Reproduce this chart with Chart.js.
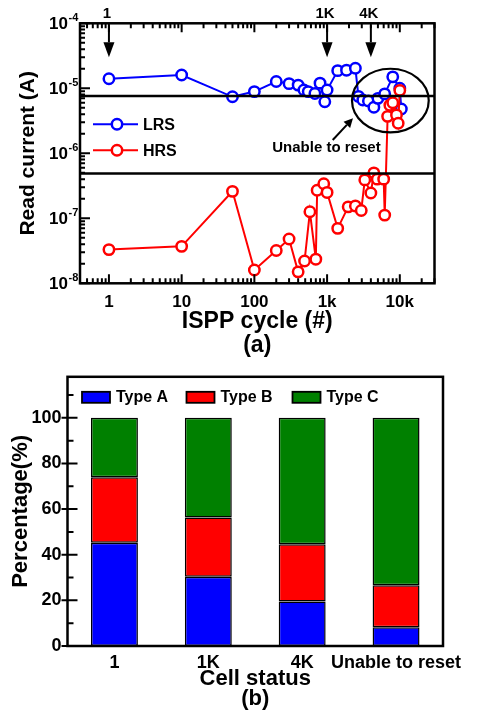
<!DOCTYPE html>
<html><head><meta charset="utf-8">
<script src="https://cdn.jsdelivr.net/npm/chart.js@4/dist/chart.umd.min.js"></script>
<style>
html,body{margin:0;padding:0;background:#fff;width:495px;height:718px;overflow:hidden;}
#wa{position:absolute;left:0;top:0;width:495px;height:360px;}
#wb{position:absolute;left:0;top:360px;width:495px;height:358px;}
</style></head><body>
<div id="wa"><canvas id="ca"></canvas></div>
<div id="wb"><canvas id="cb"></canvas></div>
<script>
// ---------- Panel (a) data ----------
const lrsCycles  = [1, 10, 50, 100, 200, 300, 400, 480, 550, 680, 800, 930, 1000, 1400, 1850, 2450, 2700, 3100, 3700, 4400, 5000, 6200, 8000, 10000, 10500];
const lrsCurrent = [1.4e-5, 1.6e-5, 7.4e-6, 8.9e-6, 1.27e-5, 1.18e-5, 1.12e-5, 9.4e-6, 8.9e-6, 8.3e-6, 1.2e-5, 6.2e-6, 9.4e-6, 1.87e-5, 1.9e-5, 2.03e-5, 7.5e-6, 6.6e-6, 6.4e-6, 5.1e-6, 7.0e-6, 8.2e-6, 1.5e-5, 1.0e-5, 4.8e-6];
const hrsCycles  = [1, 10, 50, 100, 200, 300, 400, 490, 580, 700, 730, 900, 1000, 1400, 1950, 2450, 2950, 3300, 4000, 4400, 4900, 6000, 6200, 6800, 7300, 8000, 9000, 9500, 10000];
const hrsCurrent = [3.3e-8, 3.7e-8, 2.6e-7, 1.6e-8, 3.2e-8, 4.8e-8, 1.5e-8, 2.2e-8, 1.26e-7, 2.35e-8, 2.7e-7, 3.4e-7, 2.5e-7, 7.0e-8, 1.5e-7, 1.55e-7, 1.32e-7, 3.9e-7, 2.45e-7, 5.0e-7, 4.0e-7, 4.0e-7, 1.12e-7, 3.7e-6, 5.5e-6, 6.0e-6, 3.9e-6, 2.9e-6, 9.3e-6];
const thresholdLevels = [7.6e-6, 4.9e-7];
const markerCycles = [1, 1000, 4000];
const markerLabels = ['1', '1K', '4K'];
const xTickValues = [1, 10, 100, 1000, 10000];
const xTickLabels = ['1', '10', '100', '1k', '10k'];
const yTickExponents = [-8, -7, -6, -5, -4];
const seriesNamesA = ['LRS', 'HRS'];

// ---------- Panel (b) data ----------
const cellStatus = ['1', '1K', '4K', 'Unable to reset'];
const typeA = [45.3, 30.4, 19.5, 8.2];
const typeB = [28.7, 25.9, 25.1, 18.4];
const typeC = [26.0, 43.7, 55.4, 73.4];
const typeNames = ['Type A', 'Type B', 'Type C'];
const pctTicks = [0, 20, 40, 60, 80, 100];

const FONT = "'Liberation Sans', Arial, sans-serif";
Chart.defaults.font.family = FONT;
Chart.defaults.color = '#000';
Chart.defaults.animation = false;

const BLUE = '#0000ff', RED = '#ff0000', GREEN = '#008000';
const X_MIN = 0.4, X_MAX = 3e4;

function arrow(ctx, x1, y1, x2, y2, hl, hw) {
  const a = Math.atan2(y2 - y1, x2 - x1);
  const bx = x2 - hl * Math.cos(a), by = y2 - hl * Math.sin(a);
  ctx.beginPath(); ctx.moveTo(x1, y1); ctx.lineTo(bx, by); ctx.stroke();
  ctx.beginPath();
  ctx.moveTo(x2, y2);
  ctx.lineTo(bx + hw * Math.sin(a), by - hw * Math.cos(a));
  ctx.lineTo(bx - hw * Math.sin(a), by + hw * Math.cos(a));
  ctx.closePath(); ctx.fill();
}

function logTicks(min, max) {
  const out = [];
  for (let e = Math.floor(Math.log10(min)); e <= Math.ceil(Math.log10(max)); e++) {
    for (let m = 1; m < 10; m++) {
      const v = m * Math.pow(10, e);
      if (v >= min * 0.999 && v <= max * 1.001) out.push({v, major: m === 1});
    }
  }
  return out;
}

const decorA = {
  id: 'decorA',
  afterDraw(chart) {
    const {ctx, chartArea: ca, scales: {x, y}} = chart;
    ctx.save();
    ctx.strokeStyle = '#000'; ctx.fillStyle = '#000';
    // ticks
    ctx.lineWidth = 2;
    ctx.beginPath();
    logTicks(X_MIN, X_MAX).forEach(t => {
      const px = x.getPixelForValue(t.v);
      const L = t.major ? 9 : 5;
      ctx.moveTo(px, ca.bottom); ctx.lineTo(px, ca.bottom - L);
      ctx.moveTo(px, ca.top); ctx.lineTo(px, ca.top + L);
    });
    logTicks(1e-8, 1e-4).forEach(t => {
      const py = y.getPixelForValue(t.v);
      const L = t.major ? 10 : 5;
      ctx.moveTo(ca.left, py); ctx.lineTo(ca.left + L, py);
    });
    ctx.stroke();
    // frame
    ctx.lineWidth = 2.5;
    ctx.strokeRect(ca.left, ca.top, ca.right - ca.left, ca.bottom - ca.top);
    // y tick labels 10^n
    yTickExponents.forEach(e => {
      const py = y.getPixelForValue(Math.pow(10, e));
      ctx.font = 'bold 17px ' + FONT;
      ctx.textAlign = 'right'; ctx.textBaseline = 'middle';
      ctx.fillText('10', ca.left - 12, py + 1);
      ctx.font = 'bold 11px ' + FONT;
      ctx.textAlign = 'left';
      ctx.fillText(String(e), ca.left - 11.5, py - 5);
    });
    // marker arrows
    ctx.lineWidth = 2;
    markerCycles.forEach((c, i) => {
      const px = x.getPixelForValue(c);
      arrow(ctx, px, ca.top + 2, px, y.getPixelForValue(3e-5), 15, 5.5);
      ctx.font = 'bold 15px ' + FONT;
      ctx.textAlign = 'center'; ctx.textBaseline = 'middle';
      ctx.fillText(markerLabels[i], px - 2, ca.top - 9);
    });
    // ellipse
    const ex1 = x.getPixelForValue(2200), ex2 = x.getPixelForValue(25000);
    const ey1 = y.getPixelForValue(2.0e-5), ey2 = y.getPixelForValue(2.1e-6);
    ctx.lineWidth = 2.2;
    ctx.beginPath();
    ctx.ellipse((ex1 + ex2) / 2, (ey1 + ey2) / 2, (ex2 - ex1) / 2, (ey2 - ey1) / 2, 0, 0, Math.PI * 2);
    ctx.stroke();
    // Unable to reset annotation
    ctx.lineWidth = 2;
    arrow(ctx, x.getPixelForValue(1195), y.getPixelForValue(1.6e-6), x.getPixelForValue(2270), y.getPixelForValue(3.45e-6), 9, 4.5);
    ctx.font = 'bold 15px ' + FONT;
    ctx.textAlign = 'center'; ctx.textBaseline = 'middle';
    ctx.fillText('Unable to reset', x.getPixelForValue(980), y.getPixelForValue(1.21e-6));
    // legend
    const cols = [BLUE, RED];
    seriesNamesA.forEach((n, i) => {
      const ly = ca.top + 101 + i * 26;
      const lx = ca.left + 13;
      ctx.strokeStyle = cols[i]; ctx.lineWidth = 2;
      ctx.beginPath(); ctx.moveTo(lx, ly); ctx.lineTo(lx + 45, ly); ctx.stroke();
      ctx.fillStyle = '#fff'; ctx.lineWidth = 2.5;
      ctx.beginPath(); ctx.arc(lx + 24, ly, 5.2, 0, Math.PI * 2); ctx.fill(); ctx.stroke();
      ctx.fillStyle = '#000';
      ctx.font = 'bold 16px ' + FONT; ctx.textAlign = 'left'; ctx.textBaseline = 'middle';
      ctx.fillText(n, lx + 50, ly + 1);
    });
    ctx.restore();
  }
};

const toXY = (xs, ys) => xs.map((v, i) => ({x: v, y: ys[i]}));
const seriesStyle = c => ({borderColor: c, backgroundColor: '#fff', pointBackgroundColor: '#fff', pointBorderColor: c,
  pointRadius: 5.2, pointBorderWidth: 2.5, borderWidth: 2, tension: 0});

new Chart(document.getElementById('ca'), {
  type: 'line',
  data: {datasets: [
    Object.assign({label: seriesNamesA[0], data: toXY(lrsCycles, lrsCurrent), order: 2}, seriesStyle(BLUE)),
    Object.assign({label: seriesNamesA[1], data: toXY(hrsCycles, hrsCurrent), order: 1}, seriesStyle(RED)),
    {label: 'LRS limit', data: [{x: X_MIN, y: thresholdLevels[0]}, {x: X_MAX, y: thresholdLevels[0]}], borderColor: '#000', borderWidth: 2.5, pointRadius: 0, order: 0},
    {label: 'HRS limit', data: [{x: X_MIN, y: thresholdLevels[1]}, {x: X_MAX, y: thresholdLevels[1]}], borderColor: '#000', borderWidth: 2.5, pointRadius: 0, order: 0}
  ]},
  options: {
    responsive: true, maintainAspectRatio: false, animation: false,
    layout: {padding: {left: 0, right: 60.5, top: 23.3, bottom: 0}},
    plugins: {legend: {display: false}, tooltip: {enabled: false}},
    scales: {
      x: {
        type: 'logarithmic', min: X_MIN, max: X_MAX, bounds: 'data',
        afterFit(s) { s.height = 76.7; },
        afterBuildTicks(s) { s.ticks = xTickValues.map(v => ({value: v})); },
        ticks: {callback: (v, i) => xTickLabels[i], font: {size: 17, weight: 'bold'}, padding: 9, maxRotation: 0, autoSkip: false},
        grid: {display: false, drawTicks: false}, border: {display: false},
        title: {display: true, text: ['ISPP cycle (#)', '(a)'], font: {size: 23, weight: 'bold', lineHeight: 1.05}, padding: {top: 0, bottom: 2}}
      },
      y: {
        type: 'logarithmic', min: 1e-8, max: 1e-4, bounds: 'data',
        afterFit(s) { s.width = 80; },
        afterBuildTicks(s) { s.ticks = yTickExponents.map(e => ({value: Math.pow(10, e)})); },
        ticks: {display: false},
        grid: {display: false, drawTicks: false}, border: {display: false},
        title: {display: true, text: 'Read current (A)', font: {size: 21, weight: 'bold', lineHeight: 1.2}, padding: {top: 16, bottom: 0}}
      }
    }
  },
  plugins: [decorA]
});

// ---------- Panel (b) ----------
const decorB = {
  id: 'decorB',
  afterDraw(chart) {
    const {ctx, chartArea: ca, scales: {y}} = chart;
    ctx.save();
    ctx.strokeStyle = '#000'; ctx.fillStyle = '#000';
    ctx.lineWidth = 2;
    ctx.beginPath();
    for (let v = 0; v <= 110; v += 10) {
      const py = y.getPixelForValue(v);
      if (v % 20 === 0) { ctx.moveTo(ca.left - 6, py); ctx.lineTo(ca.left + 10, py); }
      else { ctx.moveTo(ca.left, py); ctx.lineTo(ca.left + 6, py); }
    }
    ctx.stroke();
    ctx.lineWidth = 2.5;
    ctx.strokeRect(ca.left, ca.top, ca.right - ca.left, ca.bottom - ca.top);
    // legend
    const cols = [BLUE, RED, GREEN];
    const starts = [14.5, 119, 225];
    typeNames.forEach((n, i) => {
      const bx = ca.left + starts[i], by = ca.top + 15;
      ctx.fillStyle = cols[i];
      ctx.fillRect(bx, by, 28, 11);
      ctx.lineWidth = 1.8; ctx.strokeRect(bx, by, 28, 11);
      ctx.fillStyle = '#000';
      ctx.font = 'bold 16px ' + FONT; ctx.textAlign = 'left'; ctx.textBaseline = 'middle';
      ctx.fillText(n, bx + 34, by + 6);
    });
    ctx.restore();
  }
};

const barStyle = c => ({backgroundColor: c, borderColor: '#000', borderWidth: 1.5, borderSkipped: false});

new Chart(document.getElementById('cb'), {
  type: 'bar',
  data: {labels: cellStatus, datasets: [
    Object.assign({label: typeNames[0], data: typeA}, barStyle(BLUE)),
    Object.assign({label: typeNames[1], data: typeB}, barStyle(RED)),
    Object.assign({label: typeNames[2], data: typeC}, barStyle(GREEN))
  ]},
  options: {
    responsive: true, maintainAspectRatio: false, animation: false,
    layout: {padding: {left: 0, right: 52, top: 8.3, bottom: 0}},
    datasets: {bar: {barPercentage: 0.5, categoryPercentage: 1}},
    plugins: {legend: {display: false}, tooltip: {enabled: false}},
    scales: {
      x: {
        stacked: true,
        afterFit(s) { s.height = 72; },
        ticks: {font: {size: 18, weight: 'bold'}, padding: 6, maxRotation: 0, autoSkip: false},
        grid: {display: false, drawTicks: false}, border: {display: false},
        title: {display: true, text: ['Cell status', '(b)'], font: {size: 22, weight: 'bold', lineHeight: 0.92}, padding: {top: 0, bottom: 9}}
      },
      y: {
        stacked: true, min: 0, max: 118,
        afterFit(s) { s.width = 67.5; },
        afterBuildTicks(s) { s.ticks = pctTicks.map(v => ({value: v})); },
        ticks: {font: {size: 18, weight: 'bold'}, padding: 6},
        grid: {display: false, drawTicks: false}, border: {display: false},
        title: {display: true, text: 'Percentage(%)', font: {size: 22, weight: 'bold', lineHeight: 1.2}, padding: {top: 8, bottom: 0}}
      }
    }
  },
  plugins: [decorB]
});
</script>
</body></html>
